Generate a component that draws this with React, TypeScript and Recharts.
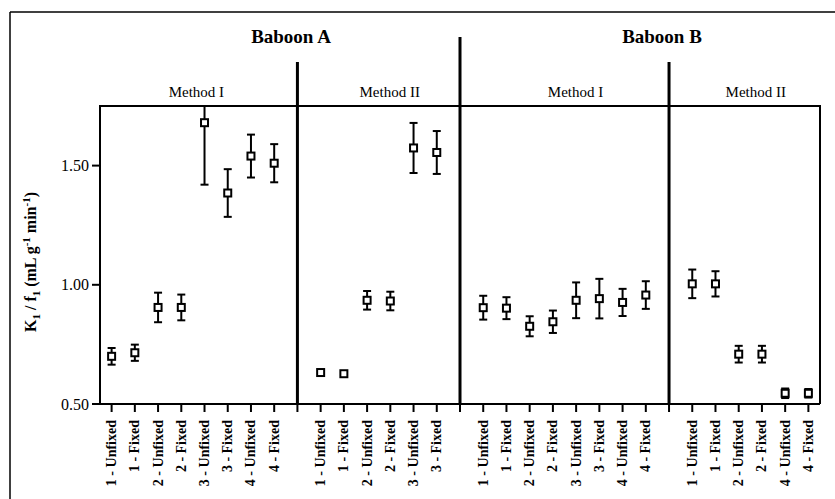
import { ErrorBar, Scatter, ScatterChart, XAxis, YAxis } from "recharts";

const CHART_W = 835;
const CHART_H = 499;
const PLOT_LEFT = 100;
const PLOT_RIGHT = 820;
const PLOT_TOP = 106;
const PLOT_BOTTOM = 404;
const FONT = "'Liberation Serif', 'DejaVu Serif', serif";

// conditions per panel
const labelsAMethodI = ["1 - Unfixed", "1 - Fixed", "2 - Unfixed", "2 - Fixed", "3 - Unfixed", "3 - Fixed", "4 - Unfixed", "4 - Fixed"];
const labelsAMethodII = ["1 - Unfixed", "1 - Fixed", "2 - Unfixed", "2 - Fixed", "3 - Unfixed", "3 - Fixed"];
const labelsBMethodI = ["1 - Unfixed", "1 - Fixed", "2 - Unfixed", "2 - Fixed", "3 - Unfixed", "3 - Fixed", "4 - Unfixed", "4 - Fixed"];
const labelsBMethodII = ["1 - Unfixed", "1 - Fixed", "2 - Unfixed", "2 - Fixed", "4 - Unfixed", "4 - Fixed"];

// K1/f1 means
const meanAMethodI = [0.70, 0.715, 0.905, 0.905, 1.68, 1.385, 1.54, 1.51];
const meanAMethodII = [0.632, 0.627, 0.935, 0.932, 1.574, 1.555];
const meanBMethodI = [0.904, 0.902, 0.826, 0.845, 0.935, 0.942, 0.926, 0.957];
const meanBMethodII = [1.004, 1.004, 0.709, 0.709, 0.545, 0.545];

// error bar half-lengths
const errAMethodI = [0.035, 0.034, 0.062, 0.054, 0.26, 0.10, 0.09, 0.08];
const errAMethodII = [0, 0, 0.039, 0.039, 0.105, 0.09];
const errBMethodI = [0.05, 0.046, 0.042, 0.047, 0.075, 0.083, 0.057, 0.058];
const errBMethodII = [0.06, 0.053, 0.035, 0.035, 0.02, 0.018];

const yTicks = [0.5, 1.0, 1.5];

const groups = [
  { baboon: "Baboon A", method: "Method I", labels: labelsAMethodI, means: meanAMethodI, errs: errAMethodI },
  { baboon: "Baboon A", method: "Method II", labels: labelsAMethodII, means: meanAMethodII, errs: errAMethodII },
  { baboon: "Baboon B", method: "Method I", labels: labelsBMethodI, means: meanBMethodI, errs: errBMethodI },
  { baboon: "Baboon B", method: "Method II", labels: labelsBMethodII, means: meanBMethodII, errs: errBMethodII },
];

// lay groups out on a single slot axis, with an empty slot between groups
const slotLabels: string[] = [];
const separators: { slot: number; major: boolean }[] = [];
const groupSpans: { start: number; end: number; method: string }[] = [];
const points: { x: number; y: number; err: number }[] = [];
groups.forEach((g, gi) => {
  if (gi > 0) {
    separators.push({ slot: slotLabels.length, major: g.baboon !== groups[gi - 1].baboon });
    slotLabels.push("");
  }
  const start = slotLabels.length;
  g.labels.forEach((label, i) => {
    points.push({ x: slotLabels.length, y: g.means[i], err: g.errs[i] });
    slotLabels.push(label);
  });
  groupSpans.push({ start, end: slotLabels.length - 1, method: g.method });
});
const SLOT_COUNT = slotLabels.length;
const slotTicks = slotLabels.map((_, i) => i);

const slotX = (s: number): number => PLOT_LEFT + ((s + 0.5) * (PLOT_RIGHT - PLOT_LEFT)) / SLOT_COUNT;

function SlotTick(props: any) {
  const { x, y, payload } = props;
  const label = slotLabels[payload.value] ?? "";
  return (
    <text
      x={x}
      y={y}
      transform={`rotate(-90 ${x} ${y})`}
      textAnchor="end"
      dominantBaseline="central"
      fontFamily={FONT}
      fontWeight="bold"
      fontSize={14}
      fill="#000"
    >
      {label}
    </text>
  );
}

function SquareMarker(props: any) {
  const { cx, cy } = props;
  return <rect x={cx - 3.5} y={cy - 3.5} width={7} height={7} fill="#fff" stroke="#000" strokeWidth={2} />;
}

function Decorations() {
  return (
    <svg
      width={CHART_W}
      height={CHART_H}
      style={{ position: "absolute", left: 0, top: 0, pointerEvents: "none" }}
    >
      {/* hide error bar parts that run past the top of the plot */}
      <rect x={PLOT_LEFT - 1} y={14} width={PLOT_RIGHT - PLOT_LEFT + 2} height={PLOT_TOP - 14} fill="#fff" />
      {/* outer frame */}
      <line x1={10} y1={12} x2={CHART_W} y2={12} stroke="#000" strokeWidth={1.5} />
      <line x1={10} y1={12} x2={10} y2={CHART_H} stroke="#000" strokeWidth={1.5} />
      {/* plot box top and right */}
      <line x1={PLOT_LEFT - 1} y1={PLOT_TOP} x2={PLOT_RIGHT + 1} y2={PLOT_TOP} stroke="#000" strokeWidth={2} />
      <line x1={PLOT_RIGHT} y1={PLOT_TOP} x2={PLOT_RIGHT} y2={PLOT_BOTTOM} stroke="#000" strokeWidth={2} />
      {separators.map((s) => (
        <line
          key={s.slot}
          x1={slotX(s.slot)}
          x2={slotX(s.slot)}
          y1={s.major ? 37 : 62}
          y2={PLOT_BOTTOM}
          stroke="#000"
          strokeWidth={3}
        />
      ))}
      <text x={291} y={43} textAnchor="middle" fontFamily={FONT} fontWeight="bold" fontSize={19} fill="#000">
        {groups[0].baboon}
      </text>
      <text x={662} y={43} textAnchor="middle" fontFamily={FONT} fontWeight="bold" fontSize={19} fill="#000">
        {groups[2].baboon}
      </text>
      {groupSpans.map((span, i) => {
        const left = i === 0 ? PLOT_LEFT : (slotX(span.start - 1) + slotX(span.start)) / 2 + 11;
        const right = i === groupSpans.length - 1 ? PLOT_RIGHT : (slotX(span.end) + slotX(span.end + 1)) / 2 + 11;
        return (
          <text
            key={i}
            x={(left + right) / 2 - (i === 0 ? 2 : 0)}
            y={97}
            textAnchor="middle"
            fontFamily={FONT}
            fontSize={15}
            fill="#000"
          >
            {span.method}
          </text>
        );
      })}
      <text
        x={36}
        y={262}
        transform="rotate(-90 36 262)"
        textAnchor="middle"
        fontFamily={FONT}
        fontWeight="bold"
        fontSize={16}
        fill="#000"
      >
        K<tspan fontSize={11} dy={4}>1</tspan>
        <tspan dy={-4}> / f</tspan>
        <tspan fontSize={11} dy={4}>1</tspan>
        <tspan dy={-4}> (mL g</tspan>
        <tspan fontSize={11} dy={-6}>-1</tspan>
        <tspan dy={6}> min</tspan>
        <tspan fontSize={11} dy={-6}>-1</tspan>
        <tspan dy={6}>)</tspan>
      </text>
    </svg>
  );
}

export default function App() {
  return (
    <div style={{ position: "absolute", left: 0, top: 0, width: CHART_W, height: CHART_H, background: "#fff" }}>
      <ScatterChart
        width={CHART_W}
        height={CHART_H}
        margin={{ top: PLOT_TOP, right: CHART_W - PLOT_RIGHT, bottom: 0, left: 40 }}
      >
        <XAxis
          type="number"
          dataKey="x"
          domain={[-0.5, SLOT_COUNT - 0.5]}
          ticks={slotTicks}
          interval={0}
          height={CHART_H - PLOT_BOTTOM}
          tickSize={8}
          tickMargin={8}
          tick={<SlotTick />}
          axisLine={{ stroke: "#000", strokeWidth: 2 }}
          tickLine={{ stroke: "#000", strokeWidth: 2 }}
        />
        <YAxis
          type="number"
          dataKey="y"
          domain={[0.5, 1.75]}
          allowDataOverflow
          ticks={yTicks}
          width={PLOT_LEFT - 40}
          tickSize={8}
          tickMargin={3}
          tickFormatter={(v: number) => v.toFixed(2)}
          tick={{ fill: "#000", fontSize: 16, fontFamily: FONT }}
          axisLine={{ stroke: "#000", strokeWidth: 2 }}
          tickLine={{ stroke: "#000", strokeWidth: 2 }}
        />
        <Scatter data={points} shape={<SquareMarker />} isAnimationActive={false}>
          <ErrorBar dataKey="err" direction="y" width={4} stroke="#000" strokeWidth={2} />
        </Scatter>
      </ScatterChart>
      <Decorations />
    </div>
  );
}
